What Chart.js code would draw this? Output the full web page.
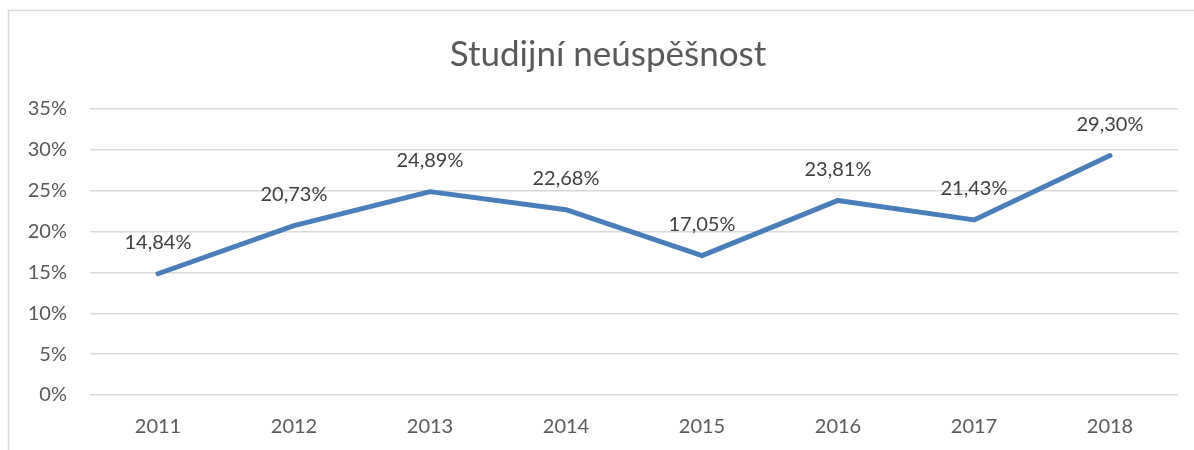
<!DOCTYPE html>
<html lang="cs">
<head>
    <meta charset="UTF-8">
    <title>Studijní neúspěšnost</title>
    <script src="https://cdn.jsdelivr.net/npm/chart.js"></script>
    <style>
        body, html {
            margin: 0;
            padding: 0;
            background: #fff;
            overflow: hidden;
        }
        .wrap {
            position: relative;
            width: 1194px;
            height: 450px;
        }
    </style>
</head>
<body>
<div class="wrap"><canvas id="failChart"></canvas></div>
<script>
    const years = ['2011', '2012', '2013', '2014', '2015', '2016', '2017', '2018'];
    const failRate = [0.1484, 0.2073, 0.2489, 0.2268, 0.1705, 0.2381, 0.2143, 0.2930];
    const yTicks = [0, 0.05, 0.10, 0.15, 0.20, 0.25, 0.30, 0.35];
    const chartTitle = 'Studijní neúspěšnost';

    const fontFamily = "Lato, 'Open Sans', sans-serif";

    function pct(v, digits) {
        return (v * 100).toFixed(digits).replace('.', ',') + '%';
    }

    // frame of the chart object (only left and top edge are visible) + title,
    // which Excel centres on the whole frame, not on the plot
    const framePlugin = {
        id: 'frame',
        beforeDraw(chart) {
            const c = chart.ctx;
            c.save();
            c.strokeStyle = '#d9d9d9';
            c.lineWidth = 1.5;
            c.beginPath();
            c.moveTo(8.5, 460);
            c.lineTo(8.5, 10.5);
            c.lineTo(1200, 10.5);
            c.stroke();

            c.font = '35px ' + fontFamily;
            c.fillStyle = '#595959';
            c.textAlign = 'center';
            c.textBaseline = 'middle';
            c.fillText(chartTitle, 608, 55);
            c.restore();
        }
    };

    // value labels above the points
    const valueLabels = {
        id: 'valueLabels',
        afterDatasetsDraw(chart) {
            const c = chart.ctx;
            const meta = chart.getDatasetMeta(0);
            c.save();
            c.font = '20px ' + fontFamily;
            c.fillStyle = '#404040';
            c.textAlign = 'center';
            c.textBaseline = 'middle';
            meta.data.forEach((pt, i) => {
                c.fillText(pct(failRate[i], 2), pt.x, pt.y - 31);
            });
            c.restore();
        }
    };

    const ctx = document.getElementById('failChart').getContext('2d');
    new Chart(ctx, {
        type: 'line',
        data: {
            labels: years,
            datasets: [{
                data: failRate,
                borderColor: '#4a7ebb',
                borderWidth: 5,
                pointRadius: 0,
                tension: 0,
                borderCapStyle: 'round',
                borderJoinStyle: 'round',
                fill: false
            }]
        },
        options: {
            responsive: true,
            maintainAspectRatio: false,
            animation: false,
            layout: {
                padding: { top: 109, right: 16, bottom: 0, left: 0 }
            },
            plugins: {
                legend: { display: false },
                tooltip: { enabled: false },
                title: { display: false }
            },
            scales: {
                x: {
                    offset: true,
                    grid: { display: false, drawTicks: false },
                    border: { display: false },
                    ticks: {
                        color: '#595959',
                        font: { family: fontFamily, size: 20 },
                        padding: 20,
                        maxRotation: 0
                    },
                    afterFit(scale) { scale.height = 55; }
                },
                y: {
                    min: 0,
                    max: 0.35,
                    afterBuildTicks(scale) {
                        scale.ticks = yTicks.map(v => ({ value: v }));
                    },
                    grid: {
                        color: '#d9d9d9',
                        lineWidth: 1.5,
                        drawTicks: false
                    },
                    border: { display: false },
                    ticks: {
                        color: '#595959',
                        font: { family: fontFamily, size: 20 },
                        padding: 23,
                        callback: v => pct(v, 0)
                    },
                    afterFit(scale) { scale.width = 90; }
                }
            }
        },
        plugins: [framePlugin, valueLabels]
    });
</script>
</body>
</html>
